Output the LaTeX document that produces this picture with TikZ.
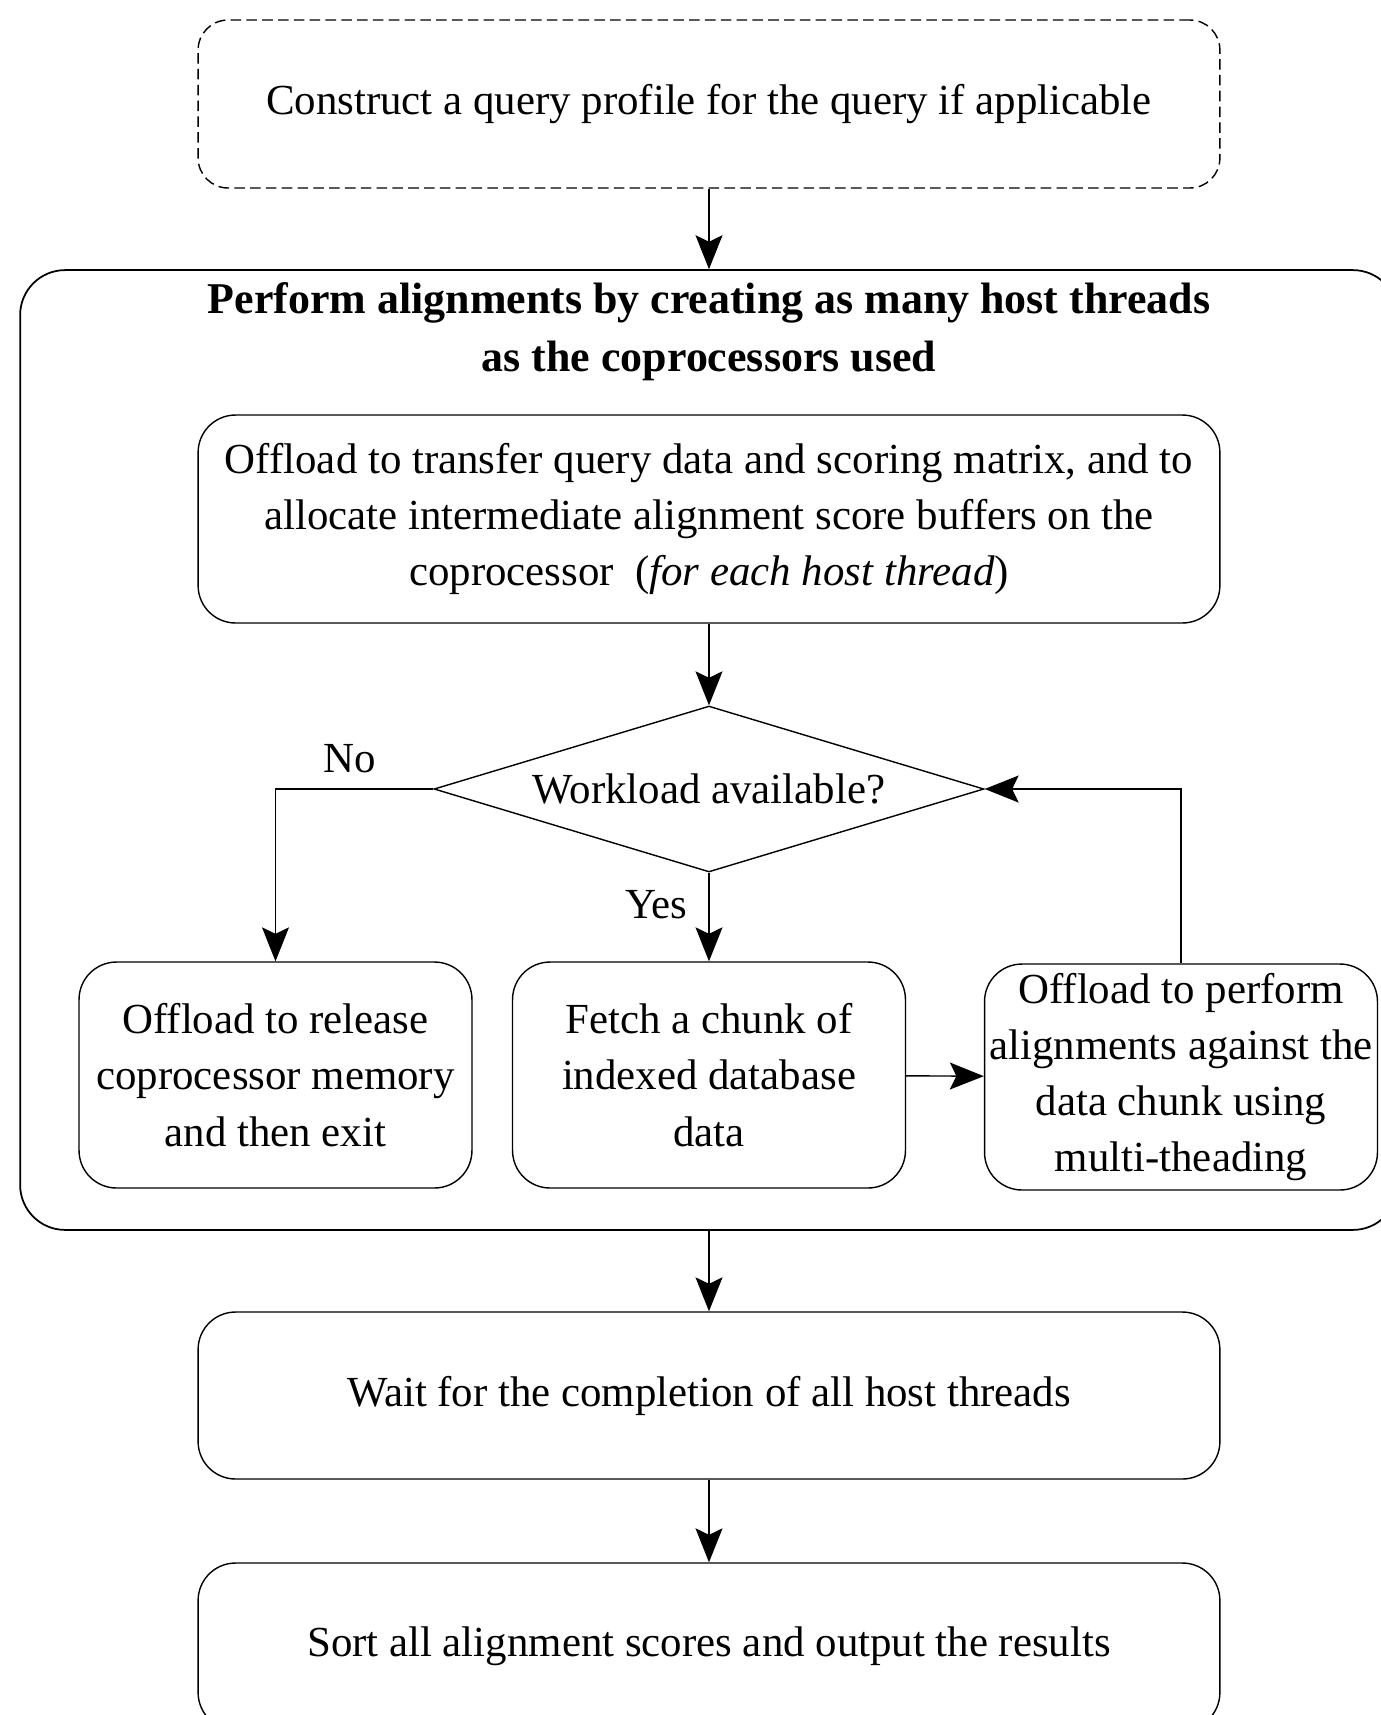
\documentclass[tikz,border=0pt]{standalone}
\usepackage{fontspec}
\setmainfont{Liberation Serif}
\usepackage{tikz}
\usetikzlibrary{shapes.geometric, arrows.meta}
\tikzstyle{process} = [draw, line width=0.8pt, rounded corners=0.75cm, align=center, minimum width=20.44cm, minimum height=3.34cm, font=\fontsize{24.4}{32}\selectfont]
\tikzstyle{dashedbox} = [process, dash pattern=on 6pt off 3pt, rounded corners=0.6cm, minimum height=3.36cm]
\tikzstyle{smallbox} = [process, minimum width=7.86cm, minimum height=4.52cm, inner sep=2pt]
\tikzstyle{decision} = [draw, line width=0.8pt, diamond, aspect=3.3, minimum width=11cm, minimum height=3.32cm, inner sep=0pt, font=\fontsize{24.4}{32}\selectfont]
\tikzstyle{container} = [draw, line width=1pt, rounded corners=0.9cm, minimum width=27.56cm, minimum height=19.2cm]
\tikzstyle{heading} = [align=center, font=\fontsize{25}{33}\selectfont\bfseries]
\tikzstyle{tag} = [font=\fontsize{24.4}{32}\selectfont]
\tikzstyle{arrow} = [line width=0.8pt, -{Stealth[length=6.8mm, width=5.4mm, inset=1.3mm]}]

\begin{document}
\begin{tikzpicture}[x=0.02cm, y=-0.02cm]
            \useasboundingbox (0,0) rectangle (1381,1715);
            % setup stage
            \node[dashedbox] (profile) at (709,104) {Construct a query profile for the query if applicable};
            \node[container] (outer) at (709,750) {};
            \node[heading] (title) at (709,332) {Perform alignments by creating as many host threads\\as the coprocessors used};
            \node[process, minimum height=4.16cm] (alloc) at (709,519) {Offload to transfer query data and scoring matrix, and to\\allocate intermediate alignment score buffers on the\\coprocessor~~(\textit{for each host thread})};
            % loop over the workload
            \node[decision] (avail) at (709,789) {Workload available?};
            \node[smallbox] (release) at (275.5,1075) {Offload to release\\coprocessor memory\\and then exit};
            \node[smallbox] (fetch) at (709,1075) {Fetch a chunk of\\indexed database\\data};
            \node[smallbox] (perform) at (1181,1077) {Offload to perform\\alignments against the\\data chunk using\\multi-theading};
            % final stage
            \node[process] (wait) at (709,1395.5) {Wait for the completion of all host threads};
            \node[process] (sort) at (709,1646.5) {Sort all alignment scores and output the results};

            \draw[arrow] (profile.south) -- (outer.north);
            \draw[arrow] (alloc) -- (avail);
            \draw[arrow] (avail.west) -| node[tag, pos=0.25, above, yshift=0.2cm, xshift=-0.1cm] (nolabel) {No} (release.north);
            \draw[arrow] (avail) -- node[tag, pos=0.36, anchor=east, xshift=-0.3cm] (yeslabel) {Yes} (fetch);
            \draw[arrow] (fetch) -- (perform);
            \draw[arrow] (perform.north) |- (avail.east);
            \draw[arrow] (outer.south) -- (wait.north);
            \draw[arrow] (wait) -- (sort);
        \end{tikzpicture}
\end{document}
